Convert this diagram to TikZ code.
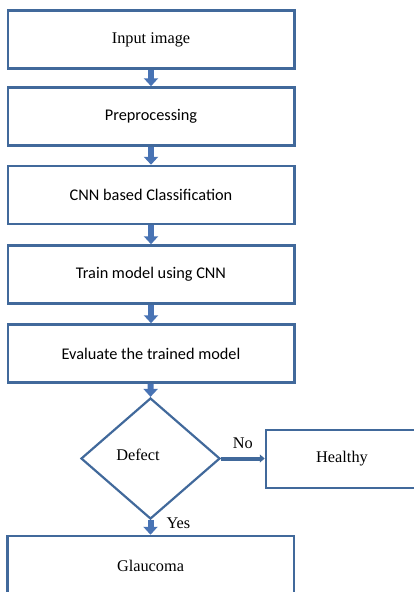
\documentclass[tikz,border=0pt]{standalone}
\usepackage{fontspec}
\setmainfont{Liberation Serif}
\newfontfamily\calibrifont{Carlito}
\usetikzlibrary{shapes.geometric,arrows.meta}
\definecolor{boxblue}{RGB}{65,105,155}
\definecolor{arrowblue}{RGB}{72,115,180}

\begin{document}
\begin{tikzpicture}[x=1pt,y=-1pt,
    bnode/.style={draw=boxblue,line width=2.5pt,minimum width=286.5pt,minimum height=58pt,inner sep=0pt,font=\fontsize{16.3}{19}\selectfont},
    snode/.style={bnode,font=\fontsize{16.3}{19}\selectfont\calibrifont},
    dnode/.style={draw=boxblue,line width=2.2pt,diamond,minimum width=139pt,minimum height=121pt,inner sep=0pt},
    tnode/.style={inner sep=1pt,font=\fontsize{16.3}{19}\selectfont},
    flow/.style={draw=arrowblue,line width=6pt,-{Triangle[width=14pt,length=8pt]}},
    side/.style={draw=boxblue,line width=4pt,-{Triangle[width=8pt,length=5pt]}}]
    \useasboundingbox (0,0) rectangle (413,592);

    \node[bnode] (1) at (151,39.5) {Input image};
    \node[snode] (2) at (151,116.5) {Preprocessing};
    \node[snode] (3) at (151,195) {CNN based Classification};
    \node[snode] (4) at (151,274.5) {Train model using CNN};
    \node[snode] (5) at (151,353.5) {Evaluate the trained model};
    \node[dnode] (d) at (150.5,458.5) {};
    \node[tnode] (dt) at (138,455) {Defect};
    \node[bnode,minimum width=152pt] (h) at (342,459) {Healthy};
    \node[bnode,minimum height=60pt] (g) at (150.5,566) {Glaucoma};

    \draw[flow] (1) -- (2);
    \draw[flow] (2) -- (3);
    \draw[flow] (3) -- (4);
    \draw[flow] (4) -- (5);
    \draw[flow] (5) -- (d.north);
    \draw[side] (d.east) -- (d.east -| h.west) node[tnode,pos=0.5,above=7pt] (no) {No};
    \draw[flow] (d.south) -- (g) node[tnode,pos=0.2,right=12pt] (yes) {Yes};
\end{tikzpicture}
\end{document}
